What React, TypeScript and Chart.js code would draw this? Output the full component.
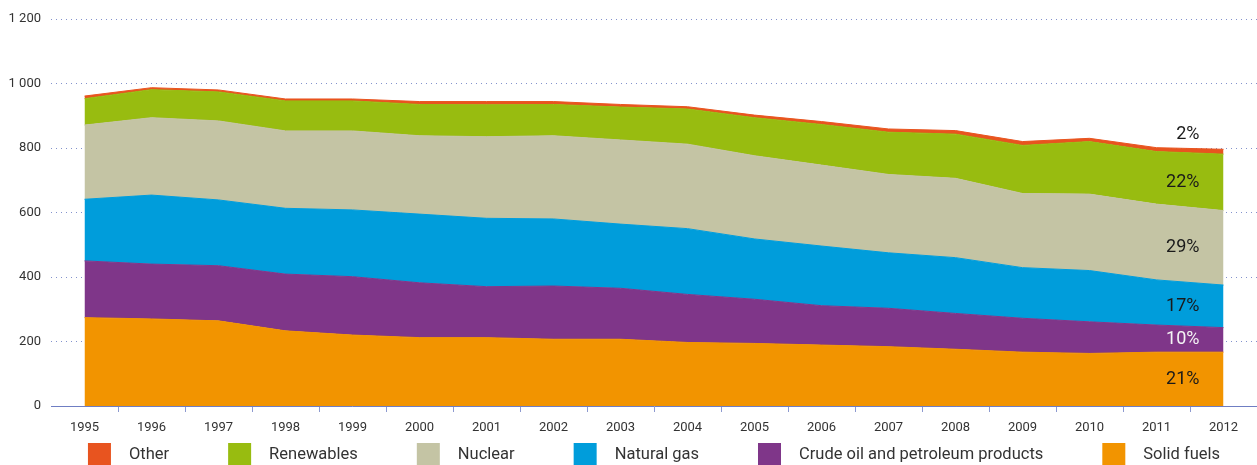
import React, { useEffect, useRef } from 'react';
import { Chart, registerables } from 'chart.js';

Chart.register(...registerables);

const years = ['1995', '1996', '1997', '1998', '1999', '2000', '2001', '2002', '2003', '2004', '2005', '2006', '2007', '2008', '2009', '2010', '2011', '2012'];
const solidFuels = [274, 270, 264, 233, 220, 212, 212, 207, 207, 197, 194, 189, 184, 176, 167, 163, 167, 167];
const crudeOil = [176, 170, 171, 176, 181, 170, 158, 165, 158, 149, 137, 122, 119, 111, 105, 98, 84, 76];
const naturalGas = [191, 214, 204, 204, 207, 213, 212, 208, 199, 204, 187, 185, 172, 173, 157, 159, 140, 132];
const nuclear = [230, 240, 245, 240, 245, 243, 253, 258, 261, 262, 258, 251, 243, 246, 230, 237, 235, 231];
const renewables = [82, 87, 90, 93, 93, 97, 99, 97, 102, 109, 118, 126, 131, 137, 149, 163, 163, 175];
const other = [8, 6, 6, 6, 6, 9, 10, 9, 8, 7, 8, 9, 10, 11, 12, 10, 12, 15];

const seriesNames = ['Solid fuels', 'Crude oil and petroleum products', 'Natural gas', 'Nuclear', 'Renewables', 'Other'];
const seriesValues = [solidFuels, crudeOil, naturalGas, nuclear, renewables, other];
const seriesColors = ['#f29400', '#7f3689', '#009ddb', '#c4c4a4', '#98bc10', '#e8541f'];
const shareLabels2012 = ['21%', '10%', '17%', '29%', '22%', '2%'];
const shareLabelColors = ['#1a1a1a', '#f4f4f4', '#1a1a1a', '#1a1a1a', '#1a1a1a', '#1a1a1a'];

const FONT = 'Roboto';

const legendPlugin = {
  id: 'bottomLegend',
  afterDraw(chart: any) {
    const ctx = chart.ctx;
    const area = chart.chartArea;
    const box = 23;
    const gapText = 18;
    const gapItem = 59;
    ctx.save();
    ctx.font = `16.5px ${FONT}`;
    const items = chart.data.datasets
      .map((d: any) => ({ label: d.label, color: d.backgroundColor }))
      .reverse();
    const widths = items.map((it: any) => box + gapText + ctx.measureText(it.label).width);
    const total = widths.reduce((a: number, b: number) => a + b, 0) + gapItem * (items.length - 1);
    let x = (area.left + area.right) / 2 - total / 2;
    const top = area.bottom + 37;
    items.forEach((it: any, i: number) => {
      ctx.fillStyle = it.color;
      ctx.fillRect(x, top, box, box);
      ctx.fillStyle = '#333333';
      ctx.textBaseline = 'middle';
      ctx.textAlign = 'left';
      ctx.fillText(it.label, x + box + gapText, top + 12);
      x += widths[i] + gapItem;
    });
    ctx.restore();
  },
};

const shareLabelPlugin = {
  id: 'shareLabels',
  afterDatasetsDraw(chart: any) {
    const ctx = chart.ctx;
    const xs = chart.scales.x;
    const ys = chart.scales.y;
    const last = years.length - 1;
    const xRight = xs.getPixelForValue(last) - 24;
    ctx.save();
    ctx.font = `18px ${FONT}`;
    ctx.textAlign = 'right';
    ctx.textBaseline = 'middle';
    let base = 0;
    seriesValues.forEach((vals, i) => {
      const v = vals[last];
      const top = base + v;
      let y;
      if (i === seriesValues.length - 1) {
        y = ys.getPixelForValue(top) - 15;
      } else {
        y = ys.getPixelForValue((base + top) / 2);
      }
      ctx.fillStyle = shareLabelColors[i];
      ctx.fillText(shareLabels2012[i], xRight, y);
      base = top;
    });
    ctx.restore();
  },
};

export default function App() {
  const canvasRef = useRef<HTMLCanvasElement | null>(null);

  useEffect(() => {
    document.body.style.margin = '0';
    const canvas = canvasRef.current;
    if (!canvas) return;
    const chart = new Chart(canvas, {
      type: 'line',
      data: {
        labels: years,
        datasets: seriesValues.map((vals, i) => ({
          label: seriesNames[i],
          data: vals,
          backgroundColor: seriesColors[i],
          borderColor: seriesColors[i],
          borderWidth: 1,
          pointRadius: 0,
          pointHoverRadius: 0,
          tension: 0,
          fill: i === 0 ? 'origin' : '-1',
        })),
      },
      options: {
        animation: false,
        responsive: true,
        maintainAspectRatio: false,
        layout: { padding: { top: 19, left: 0, right: 0, bottom: 0 } },
        plugins: {
          legend: { display: false },
          tooltip: { enabled: false },
        },
        scales: {
          x: {
            type: 'category',
            offset: true,
            grid: {
              display: true,
              offset: true,
              drawOnChartArea: false,
              drawTicks: true,
              tickLength: 6,
              tickWidth: 1,
              tickColor: (c: any) => (c.index === 0 || c.index === years.length ? 'rgba(0,0,0,0)' : '#8d9ad0'),
            },
            border: { display: true, color: '#6f7ec3', width: 1 },
            ticks: {
              autoSkip: false,
              maxRotation: 0,
              padding: 8,
              color: '#333333',
              font: { family: FONT, size: 13 },
            },
            afterFit: (scale: any) => {
              scale.height = 59;
            },
          },
          y: {
            stacked: true,
            min: 0,
            max: 1200,
            ticks: {
              stepSize: 200,
              padding: 10,
              color: '#333333',
              font: { family: FONT, size: 13 },
              callback: (v: any) => String(v).replace(/\B(?=(\d{3})+(?!\d))/g, ' '),
            },
            grid: {
              drawTicks: false,
              color: '#8392cc',
              lineWidth: 1,
            },
            border: { display: false, dash: [1, 4] },
            afterFit: (scale: any) => {
              scale.width = 51;
            },
          },
        },
      },
      plugins: [shareLabelPlugin, legendPlugin],
    });
    return () => chart.destroy();
  }, []);

  return (
    <div style={{ position: 'relative', width: '1257px', height: '465px' }}>
      <canvas ref={canvasRef} />
    </div>
  );
}
